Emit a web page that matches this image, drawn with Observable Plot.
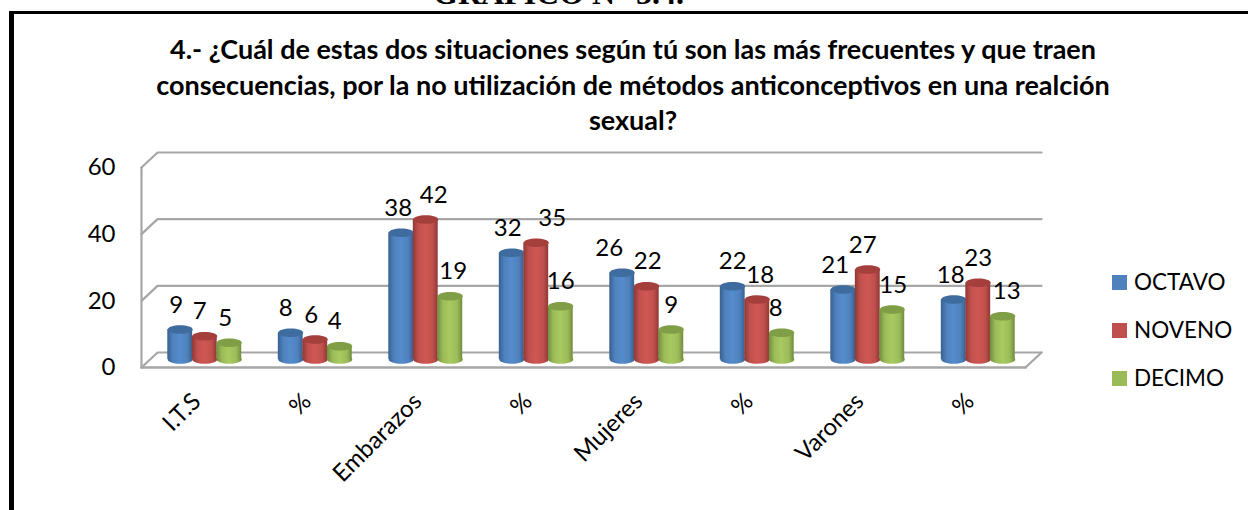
<!DOCTYPE html>
<html><head><meta charset="utf-8">
<script src="https://cdn.jsdelivr.net/npm/d3@7"></script>
<script src="https://cdn.jsdelivr.net/npm/@observablehq/plot@0.6"></script>
<style>
html,body{margin:0;padding:0;background:#fff;width:1248px;height:510px;overflow:hidden}
#wrap{position:relative;width:1248px;height:510px;font-family:Lato,sans-serif;color:#000;overflow:hidden}
#wrap svg{position:absolute;left:0;top:0}
#frameT{position:absolute;left:9px;top:11px;width:1239px;height:3px;background:#000}
#frameL{position:absolute;left:9px;top:11px;width:5px;height:499px;background:#000}
#heading{position:absolute;left:433px;top:-25px;font:bold 32px "Liberation Serif",serif;white-space:nowrap}
#title{position:absolute;left:100px;width:1066px;top:31px;text-align:center;font-weight:700;font-size:27px;line-height:35.5px;white-space:nowrap}
#legend{position:absolute;left:1112px;top:272px;font-size:22.5px}
#legend div{position:absolute;left:0;height:20px;white-space:nowrap;line-height:20px}
#legend i{position:absolute;left:0;top:3px;width:15px;height:15px}
#legend span{position:absolute;left:22px;top:0}
</style></head><body>
<div id="wrap"></div>
<script>
const categories = ["I.T.S","%","Embarazos","%","Mujeres","%","Varones","%"];
const series = ["OCTAVO","NOVENO","DECIMO"];
const octavo = [9,8,38,32,26,22,21,18];
const noveno = [7,6,42,35,22,18,27,23];
const decimo = [5,4,19,16,9,8,15,13];
const yTicks = [0,20,40,60];
const colors = ["#4F81BD","#C0504D","#9BBB59"];
const edges = ["#37608F","#8E3835","#718C3D"];
const caps = ["#3F6C9F","#A53F3C","#7F9E45"];
const headingText = "GRAFICO N° 5.4.";
const titleLines = [
  "4.- ¿Cuál de estas dos situaciones según tú son las más frecuentes y que traen",
  "consecuencias, por la no utilización de métodos anticonceptivos en una realción",
  "sexual?"
];
// the source's data labels were nudged sideways by hand (pixels, per series and category)
const labelNudge = [
  [-4,-5,-3,-4,-13,0,-8,-3],
  [-5,-4,8,16,1,3,-5,0],
  [-4,-5,3,0,0,-6,1,4]
];

const pxPerUnit = (1248-141-223)/8;
const depthX = 0.145, depthY = 4.5;          // oblique wall depth, in scale units
const barW = 0.225, step = 0.222;
const rows = categories.flatMap((c,i)=>[octavo,noveno,decimo].map((vals,s)=>({i,s,name:series[s],value:vals[i]})));
const cx = d => d.i + 0.5 + depthX/2 + (d.s-1)*step;
const base = 2.4;
const top_ = d => d.value + base;

// ellipse symbol for the cylinder caps
const ellipse = {draw(ctx,size){
  const rx = Math.sqrt(size/Math.PI), ry = rx*0.34, k = 0.5523;
  ctx.moveTo(-rx,0);
  ctx.bezierCurveTo(-rx,-ry*k,-rx*k,-ry,0,-ry);
  ctx.bezierCurveTo(rx*k,-ry,rx,-ry*k,rx,0);
  ctx.bezierCurveTo(rx,ry*k,rx*k,ry,0,ry);
  ctx.bezierCurveTo(-rx*k,ry,-rx,ry*k,-rx,0);
  ctx.closePath();
}};

const defs = () => {
  const d = d3.create("svg:defs");
  colors.forEach((c,s)=>{
    const g = d.append("linearGradient").attr("id","cyl"+s).attr("x1",0).attr("x2",1).attr("y1",0).attr("y2",0);
    [[0,edges[s]],[0.22,c],[0.5,d3.color(c).brighter(0.22).formatHex()],[0.8,c],[1,edges[s]]]
      .forEach(([o,col])=>g.append("stop").attr("offset",o).attr("stop-color",col));
  });
  return d.node();
};

const wallColor = "#A6A6A6";
const gridRows = yTicks.map(v=>({v}));
const wallLine = d => [[0,d.v],[depthX,d.v+depthY],[8+depthX,d.v+depthY]];
const wallPts = gridRows.flatMap(d=>wallLine(d).map(p=>({v:d.v,x:p[0],y:p[1]})));
const floorRight = [{x:8,y:0},{x:8+depthX,y:depthY}];
const frontEdge = [{x:0,y:0},{x:8,y:0}];
const leftEdge = [{x:0,y:0},{x:0,y:60}];

const cylMarks = series.flatMap((name,s)=>{
  const r = rows.filter(d=>d.s===s);
  return [
    Plot.dot(r,{x:cx,y:()=>base,r:12.5,symbol:ellipse,fill:`url(#cyl${s})`,stroke:"none"}),
    Plot.rectY(r,{x1:d=>cx(d)-barW/2,x2:d=>cx(d)+barW/2,y1:()=>base,y2:top_,fill:`url(#cyl${s})`,inset:0}),
    Plot.dot(r,{x:cx,y:top_,r:12.5,symbol:ellipse,fill:caps[s],stroke:"none"})
  ];
});

const plot = Plot.plot({
  width:1248,height:510,
  marginLeft:141,marginRight:223,marginTop:167,marginBottom:143,
  style:{fontFamily:"Lato,sans-serif",background:"transparent",overflow:"visible"},
  x:{type:"linear",domain:[0,8]},
  y:{type:"linear",domain:[0,60]},
  marks:[
    defs,
    Plot.line(wallPts,{x:"x",y:"y",z:"v",stroke:wallColor,strokeWidth:2.2}),
    Plot.line(floorRight,{x:"x",y:"y",stroke:wallColor,strokeWidth:2.2}),
    Plot.line(frontEdge,{x:"x",y:"y",stroke:wallColor,strokeWidth:2.6}),
    Plot.line(leftEdge,{x:"x",y:"y",stroke:wallColor,strokeWidth:2.2}),
    Plot.axisY({ticks:yTicks,tickSize:0,tickPadding:26,fontSize:24,label:null,color:"#000"}),
    Plot.axisX({ticks:categories.map((c,i)=>i+0.5),tickFormat:x=>categories[Math.floor(x)],tickRotate:-45,tickSize:0,tickPadding:30,fontSize:24,label:null,color:"#000"}),
    ...cylMarks,
    Plot.text(rows,{x:d=>cx(d)+labelNudge[d.s][d.i]/pxPerUnit,y:top_,text:d=>String(d.value),dy:-24.5,fontSize:24,fill:"#000"})
  ]
});

const wrap = document.getElementById("wrap");
wrap.appendChild(plot);
const add = (id,txt)=>{const e=document.createElement("div");e.id=id;e.textContent=txt;wrap.appendChild(e);return e;};
add("frameT","");add("frameL","");
add("heading",headingText);
const tl = add("title","");
titleLines.forEach(t=>{const l=document.createElement("div");l.textContent=t;tl.appendChild(l);});
const lg = add("legend","");
series.forEach((n,s)=>{
  const row=document.createElement("div");row.style.top=(s*48)+"px";
  const sw=document.createElement("i");sw.style.background=colors[s];
  const t=document.createElement("span");t.textContent=n;
  row.append(sw,t);lg.appendChild(row);
});
</script>
</body></html>
